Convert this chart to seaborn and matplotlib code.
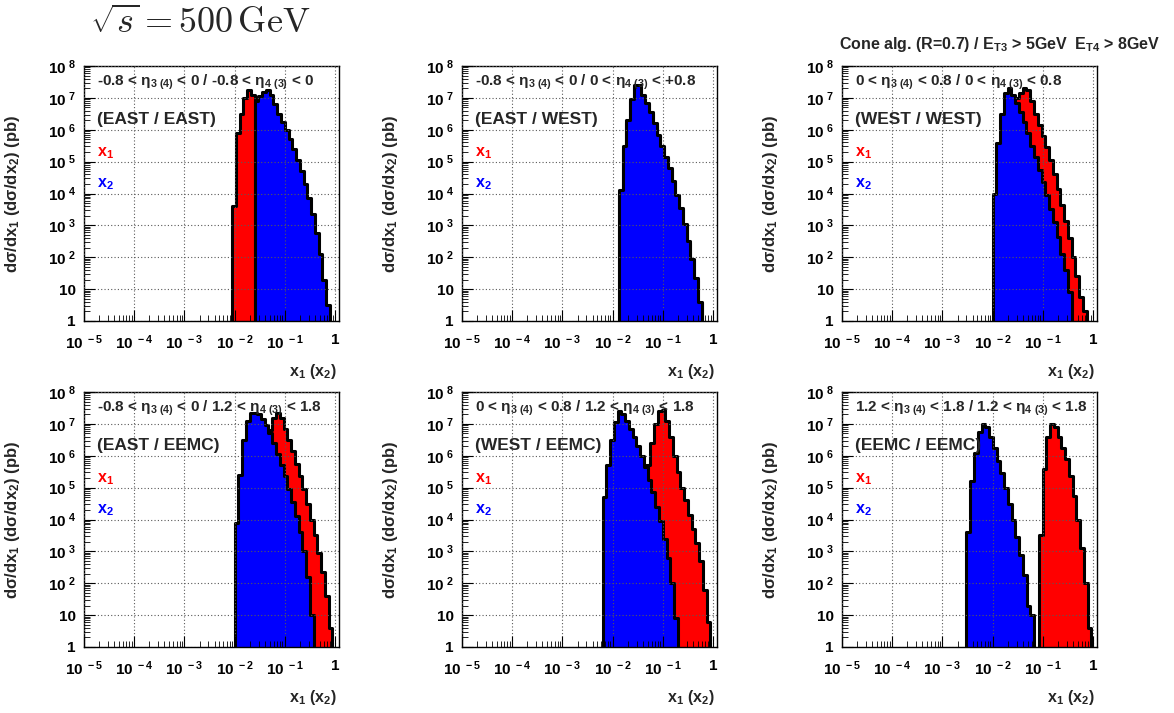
import numpy as np
import pandas as pd
import matplotlib
matplotlib.use("Agg")
import matplotlib.pyplot as plt
import seaborn as sns
from matplotlib.ticker import FixedLocator, FixedFormatter, LogLocator, NullFormatter

sns.set_theme(style="white")
plt.rcParams['font.family'] = ['Liberation Sans', 'DejaVu Sans']
plt.rcParams['font.weight'] = 'bold'
plt.rcParams['mathtext.fontset'] = 'custom'
plt.rcParams['mathtext.rm'] = 'Liberation Sans:bold'
plt.rcParams['mathtext.it'] = 'Liberation Sans:bold:italic'
plt.rcParams['mathtext.bf'] = 'Liberation Sans:bold'
plt.rcParams['mathtext.default'] = 'rm'

# ---------------- data (log10 of dsigma/dx per bin; bins of 0.075 in log10 x) ----------------
BIN_WIDTH_LOG10 = 0.075

# Panel 1: EAST / EAST
ee_x1_start = -2.05
ee_x1_log = [3.6, 5.9, 6.5, 7.0, 7.25, 7.1]
ee_x2_start = -1.60
ee_x2_log = [6.9, 7.05, 7.2, 7.25, 7.1, 6.8, 6.5, 6.25, 6.0, 5.7, 5.4, 5.05, 4.7, 4.3,
             3.85, 3.35, 2.75, 2.1, 1.3, 0.5]

# Panel 2: EAST / WEST
ew_x1_start = -1.875
ew_x1_log = [4.0, 5.4, 6.2, 6.9, 7.35, 7.35, 7.05, 6.8, 6.5, 6.15, 5.8, 5.45, 5.1, 4.75,
             4.35, 3.9, 3.5, 3.0, 2.45, 1.9, 1.3, 0.55]
ew_x2_start = -1.875
ew_x2_log = [4.1, 5.5, 6.3, 6.95, 7.4, 7.4, 7.1, 6.85, 6.55, 6.2, 5.85, 5.5, 5.15, 4.8,
             4.4, 3.95, 3.55, 3.05, 2.5, 1.95, 1.35, 0.6]

# Panel 3: WEST / WEST
ww_x1_start = -1.85
ww_x1_log = [5.0, 5.9, 6.4, 6.8, 7.0, 7.15, 7.3, 7.25, 6.9, 6.5, 6.15, 5.8, 5.45, 5.05,
             4.6, 4.15, 3.65, 3.15, 2.6, 2.0, 1.4, 0.75, 0.3]
ww_x2_start = -2.0
ww_x2_log = [4.0, 5.6, 6.5, 7.15, 7.3, 7.1, 6.85, 6.55, 6.25, 5.9, 5.5, 5.15, 4.75, 4.35,
             3.95, 3.5, 3.1, 2.65, 2.1, 1.6, 0.9]

# Panel 4: EAST / EEMC
eb_x1_start = -1.55
eb_x1_log = [5.5, 6.0, 6.4, 6.8, 7.2, 7.35, 7.2, 6.85, 6.5, 6.15, 5.75, 5.35, 4.95, 4.5,
             4.0, 3.5, 2.95, 2.35, 1.6, 0.6]
eb_x2_start = -2.0
eb_x2_log = [3.9, 5.4, 6.5, 7.1, 7.35, 7.35, 7.3, 7.15, 6.95, 6.7, 6.4, 6.05, 5.7, 5.35,
             4.95, 4.55, 4.1, 3.6, 3.0, 2.2, 1.0]

# Panel 5: WEST / EEMC
wb_x1_start = -1.40
wb_x1_log = [5.0, 5.7, 6.4, 7.0, 7.4, 7.45, 7.1, 6.6, 6.0, 5.5, 5.0, 4.6, 4.15, 3.7,
             3.25, 2.7, 1.8, 0.8]
wb_x2_start = -2.2
wb_x2_log = [4.7, 5.7, 6.5, 7.05, 7.4, 7.3, 7.1, 6.85, 6.6, 6.3, 6.0, 5.65, 5.25, 4.85,
             4.4, 3.95, 3.4, 2.8, 2.0, 0.9]

# Panel 6: EEMC / EEMC
bb_x1_start = -1.08
bb_x1_log = [3.5, 5.6, 6.6, 7.0, 6.9, 6.6, 6.25, 5.9, 5.35, 4.75, 4.0, 3.1, 2.0, 0.6]
bb_x2_start = -2.52
bb_x2_log = [3.6, 5.2, 6.1, 6.75, 7.0, 6.9, 6.6, 6.25, 5.85, 5.45, 5.0, 4.5, 4.0, 3.45,
             2.9, 2.25, 1.3, 1.0]

eta_labels = [
    r"-0.8 < $\eta_{3\ (4)}$ < 0 / -0.8 < $\eta_{4\ (3)}$ < 0",
    r"-0.8 < $\eta_{3\ (4)}$ < 0 / 0 < $\eta_{4\ (3)}$ < +0.8",
    r"0 < $\eta_{3\ (4)}$ < 0.8 / 0 < $\eta_{4\ (3)}$ < 0.8",
    r"-0.8 < $\eta_{3\ (4)}$ < 0 / 1.2 < $\eta_{4\ (3)}$ < 1.8",
    r"0 < $\eta_{3\ (4)}$ < 0.8 / 1.2 < $\eta_{4\ (3)}$ < 1.8",
    r"1.2 < $\eta_{3\ (4)}$ < 1.8 / 1.2 < $\eta_{4\ (3)}$ < 1.8",
]
region_labels = ["(EAST / EAST)", "(EAST / WEST)", "(WEST / WEST)",
                 "(EAST / EEMC)", "(WEST / EEMC)", "(EEMC / EEMC)"]

x_tick_values = [1e-5, 1e-4, 1e-3, 1e-2, 1e-1, 1.0]
x_tick_labels = [r"$10^{\ -5}$", r"$10^{\ -4}$", r"$10^{\ -3}$", r"$10^{\ -2}$",
                 r"$10^{\ -1}$", "1"]
y_tick_values = [1, 10, 1e2, 1e3, 1e4, 1e5, 1e6, 1e7, 1e8]
y_tick_labels = ["1", "10", r"$10^{\ 2}$", r"$10^{\ 3}$", r"$10^{\ 4}$", r"$10^{\ 5}$",
                 r"$10^{\ 6}$", r"$10^{\ 7}$", r"$10^{\ 8}$"]

RED = "#ff0000"
BLUE = "#0000ff"

panel_series = [
    ((ee_x1_start, ee_x1_log), (ee_x2_start, ee_x2_log)),
    ((ew_x1_start, ew_x1_log), (ew_x2_start, ew_x2_log)),
    ((ww_x1_start, ww_x1_log), (ww_x2_start, ww_x2_log)),
    ((eb_x1_start, eb_x1_log), (eb_x2_start, eb_x2_log)),
    ((wb_x1_start, wb_x1_log), (wb_x2_start, wb_x2_log)),
    ((bb_x1_start, bb_x1_log), (bb_x2_start, bb_x2_log)),
]

# ---------------- figure ----------------
fig = plt.figure(figsize=(11.74, 7.13), dpi=100)
fig.patch.set_facecolor("white")

W, H = 1174.0, 713.0
col_left = [84, 462, 842]
row_bottom = [321, 647]
ax_w, ax_h = 255, 255


def draw_hist(ax, start, logvals, color):
    n = len(logvals)
    edges = [float(start + BIN_WIDTH_LOG10 * k) for k in range(n + 1)]
    centers = [0.5 * (edges[k] + edges[k + 1]) for k in range(n)]
    df = pd.DataFrame({"x": np.power(10.0, centers), "w": np.power(10.0, logvals)})
    sns.histplot(data=df, x="x", weights="w", bins=edges, log_scale=(True, True),
                 element="step", fill=True, color=color, alpha=1.0,
                 edgecolor="black", linewidth=2.2, ax=ax)


for i in range(6):
    r, c = divmod(i, 3)
    left = col_left[c] / W
    bottom = 1 - row_bottom[r] / H
    ax = fig.add_axes([left, bottom, ax_w / W, ax_h / H])
    (s1, v1), (s2, v2) = panel_series[i]
    draw_hist(ax, s1, v1, RED)
    draw_hist(ax, s2, v2, BLUE)

    ax.set_xscale("log")
    ax.set_yscale("log")
    ax.set_xlim(1e-5, 10 ** 0.08)
    ax.set_ylim(1, 1e8)

    ax.xaxis.set_major_locator(FixedLocator(x_tick_values))
    ax.xaxis.set_major_formatter(FixedFormatter(x_tick_labels))
    ax.yaxis.set_major_locator(FixedLocator(y_tick_values))
    ax.yaxis.set_major_formatter(FixedFormatter(y_tick_labels))
    ax.xaxis.set_minor_locator(LogLocator(base=10, subs=np.arange(2, 10), numticks=20))
    ax.yaxis.set_minor_locator(LogLocator(base=10, subs=np.arange(2, 10), numticks=20))
    ax.xaxis.set_minor_formatter(NullFormatter())
    ax.yaxis.set_minor_formatter(NullFormatter())
    ax.tick_params(which="both", direction="in", bottom=True, left=True, top=False,
                   right=False, colors="black", labelsize=11)
    ax.tick_params(axis="x", which="major", length=8, width=0.8, pad=9)
    ax.tick_params(axis="y", which="major", length=8, width=0.8, pad=6)
    ax.tick_params(which="minor", length=4, width=0.6)
    for lab in ax.get_xticklabels() + ax.get_yticklabels():
        lab.set_fontweight("bold")

    ax.grid(True, which="major", linestyle=(0, (1, 2)), color="0.35", linewidth=0.8)
    ax.set_axisbelow(False)
    for sp in ax.spines.values():
        sp.set_color("black")
        sp.set_linewidth(1.0)
        sp.set_visible(True)

    ax.set_ylabel(r"d$\sigma$/dx$_1$ (d$\sigma$/dx$_2$) (pb)", fontsize=12,
                  fontweight="bold")
    ax.yaxis.set_label_coords(-0.245, 0.5)
    ax.set_xlabel(r"x$_1$ (x$_2$)", fontsize=11.5, fontweight="bold", ha="right")
    ax.xaxis.set_label_coords(0.99, -0.16)

    ax.text(0.05, 0.935, eta_labels[i], transform=ax.transAxes, fontsize=11,
            fontweight="bold", va="center", ha="left")
    ax.text(0.05, 0.79, region_labels[i], transform=ax.transAxes, fontsize=12.5,
            fontweight="bold", va="center", ha="left")
    ax.text(0.05, 0.66, r"x$_1$", transform=ax.transAxes, fontsize=11.5,
            fontweight="bold", color=RED, va="center", ha="left")
    ax.text(0.05, 0.535, r"x$_2$", transform=ax.transAxes, fontsize=11.5,
            fontweight="bold", color=BLUE, va="center", ha="left")

fig.text(90 / W, 1 - 23 / H, r"$\sqrt{\mathit{s}} = 500\,\mathrm{GeV}$", fontsize=26,
         math_fontfamily="cm", va="center", ha="left")
fig.text(1160 / W, 1 - 45 / H,
         r"Cone alg. (R=0.7) / E$_{T3}$ > 5GeV  E$_{T4}$ > 8GeV",
         fontsize=11.5, fontweight="bold", va="center", ha="right")

fig.savefig("out.png", dpi=100, facecolor="white")
